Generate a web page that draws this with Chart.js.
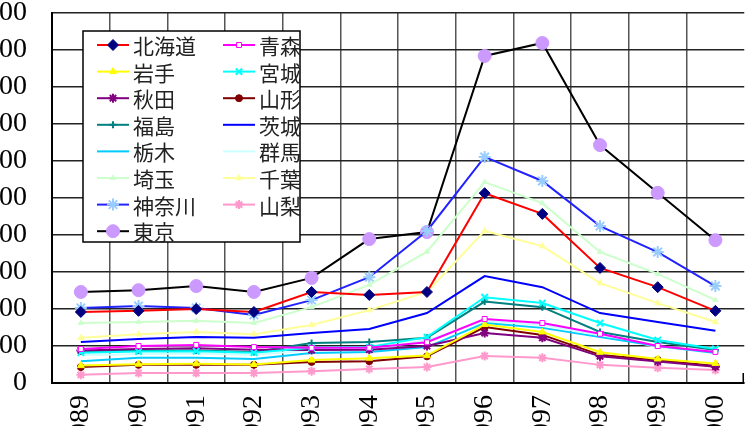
<!DOCTYPE html>
<html>
<head>
<meta charset="utf-8">
<script src="https://cdn.jsdelivr.net/npm/chart.js@4.4.1/dist/chart.umd.min.js"></script>
<style>
    html, body { margin: 0; padding: 0; background: #fff; overflow: hidden; width: 747px; height: 426px; }
    /* 目盛りラベルの左端・下端が切れるようにキャンバスをずらす */
    #wrap { position: absolute; left: -54px; top: -26px; width: 815px; height: 489px; }
</style>
</head>
<body>
<div id="wrap"><canvas id="chart"></canvas></div>
<script>
// 年（横軸）
const years = ['1989', '1990', '1991', '1992', '1993', '1994', '1995', '1996', '1997', '1998', '1999', '2000'];

// 縦軸の目盛り
const yMin = 0;
const yMax = 1000;
const yStep = 100;

// 都道府県名（凡例の順）
const prefNames = ['北海道', '青森', '岩手', '宮城', '秋田', '山形', '福島', '茨城', '栃木', '群馬', '埼玉', '千葉', '神奈川', '山梨', '東京'];

// 各都道府県の値
const hokkaido = [192, 195, 200, 192, 246, 238, 246, 513, 457, 311, 259, 195];
const aomori = [92, 100, 103, 97, 95, 95, 110, 173, 162, 133, 100, 84];
const iwate = [47, 51, 52, 50, 62, 67, 74, 158, 138, 83, 65, 53];
const miyagi = [82, 85, 86, 82, 95, 97, 124, 232, 216, 162, 116, 92];
const akita = [88, 92, 94, 90, 89, 90, 100, 135, 122, 72, 58, 44];
const yamagata = [43, 49, 49, 49, 57, 59, 72, 151, 130, 76, 62, 46];
const fukushima = [85, 88, 88, 84, 108, 111, 122, 220, 205, 138, 111, 89];
const ibaraki = [111, 119, 124, 122, 135, 146, 189, 289, 259, 189, 165, 141];
const tochigi = [59, 68, 68, 65, 81, 84, 97, 162, 149, 124, 100, 81];
const gunma = [76, 78, 80, 76, 89, 89, 116, 168, 157, 130, 97, 84];
const saitama = [162, 165, 168, 162, 205, 265, 355, 543, 486, 354, 295, 224];
const chiba = [122, 132, 138, 132, 157, 197, 246, 411, 370, 270, 216, 165];
const kanagawa = [203, 208, 203, 184, 224, 286, 411, 611, 546, 424, 354, 262];
const yamanashi = [22, 27, 27, 27, 32, 38, 43, 73, 68, 49, 41, 35];
const tokyo = [246, 251, 262, 246, 284, 389, 408, 884, 919, 643, 514, 386];

const prefValues = [hokkaido, aomori, iwate, miyagi, akita, yamagata, fukushima, ibaraki, tochigi, gunma, saitama, chiba, kanagawa, yamanashi, tokyo];

// 線の色・マーカー
const lineColors = ['#FF0000', '#FF00FF', '#FFFF00', '#00FFFF', '#800080', '#800000', '#008080', '#0000FF', '#00CCFF', '#CCFFFF', '#CCFFCC', '#FFFF99', '#2222FF', '#FF99CC', '#000000'];
const markerColors = ['#000080', '#FF00FF', '#FFFF00', '#00FFFF', '#800080', '#800000', '#008080', '#0000FF', '#00CCFF', '#CCFFFF', '#CCFFCC', '#FFFF99', '#99CCFF', '#FF99CC', '#CC99FF'];
const markerStyles = ['rectRot', 'rect', 'triangle', 'crossRot', 'star', 'circle', 'cross', 'circle', 'circle', 'circle', 'triangle', 'triangle', 'star', 'star', 'circle'];
const markerSizes = [5.5, 3.5, 4, 4.5, 4.5, 3.5, 3.5, 0, 0, 0, 3, 3.5, 6, 4.5, 6.5];

const datasets = prefNames.map((name, i) => ({
    label: name,
    data: prefValues[i],
    borderColor: lineColors[i],
    backgroundColor: markerColors[i],
    borderWidth: 2,
    tension: 0,
    pointStyle: markerStyles[i],
    pointRadius: markerSizes[i],
    pointBackgroundColor: i === 1 ? '#FFFFFF' : markerColors[i],
    pointBorderColor: markerColors[i],
    pointBorderWidth: markerStyles[i] === 'star' || markerStyles[i] === 'crossRot' || markerStyles[i] === 'cross' ? 2 : 1,
    fill: false
}));

// 凡例（プロット内の白い枠）と右端の目盛り
const boxLegend = {
    id: 'boxLegend',
    afterDraw(chart) {
        const ctx = chart.ctx;
        const area = chart.chartArea;

        // 右端の短い目盛り
        ctx.save();
        ctx.strokeStyle = '#000';
        ctx.lineWidth = 1.5;
        ctx.beginPath();
        ctx.moveTo(area.right - 1, area.bottom - 10);
        ctx.lineTo(area.right - 1, area.bottom);
        ctx.stroke();

        const x0 = area.left + 31;
        const y0 = area.top + 18;
        const w = 217;
        const h = 211;
        ctx.fillStyle = '#FFFFFF';
        ctx.fillRect(x0, y0, w, h);
        ctx.strokeStyle = '#000';
        ctx.lineWidth = 1.5;
        ctx.strokeRect(x0, y0, w, h);

        ctx.font = '21px "Noto Sans CJK JP"';
        ctx.textBaseline = 'middle';
        ctx.textAlign = 'left';

        chart.data.datasets.forEach((ds, i) => {
            const col = i % 2;
            const row = Math.floor(i / 2);
            const lx = x0 + 14 + col * 126;
            const ly = y0 + 14 + row * 26.6;

            ctx.strokeStyle = ds.borderColor;
            ctx.lineWidth = 2;
            ctx.beginPath();
            ctx.moveTo(lx, ly);
            ctx.lineTo(lx + 32, ly);
            ctx.stroke();

            if (ds.pointRadius > 0) {
                ctx.fillStyle = ds.pointBackgroundColor;
                ctx.strokeStyle = ds.pointBorderColor;
                ctx.lineWidth = ds.pointBorderWidth;
                Chart.helpers.drawPoint(ctx, {
                    pointStyle: ds.pointStyle,
                    radius: ds.pointRadius,
                    rotation: 0,
                    borderWidth: ds.pointBorderWidth
                }, lx + 16, ly);
            }

            ctx.fillStyle = '#222';
            ctx.fillText(ds.label, lx + 36, ly + 1);
        });
        ctx.restore();
    }
};

const chart = new Chart(document.getElementById('chart'), {
    type: 'line',
    data: { labels: years, datasets: datasets },
    options: {
        responsive: true,
        maintainAspectRatio: false,
        animation: false,
        events: [],
        layout: { padding: 0, autoPadding: false },
        plugins: {
            legend: { display: false },
            tooltip: { enabled: false }
        },
        scales: {
            x: {
                offset: true,
                grid: {
                    offset: true,
                    drawTicks: false,
                    lineWidth: 1.5,
                    color: c => c.tick ? '#555' : 'rgba(0,0,0,0)'
                },
                border: { display: true, color: '#000', width: 2 },
                ticks: {
                    minRotation: 90,
                    maxRotation: 90,
                    autoSkip: false,
                    padding: 12,
                    color: '#000',
                    font: { family: '"Liberation Serif"', size: 28 }
                }
            },
            y: {
                min: yMin,
                max: yMax,
                grid: { drawTicks: false, lineWidth: 1.5, color: '#222' },
                border: { display: true, color: '#000', width: 2 },
                ticks: {
                    stepSize: yStep,
                    padding: 25,
                    color: '#000',
                    font: { family: '"Liberation Serif"', size: 28, lineHeight: 1 },
                    callback: v => String(v)
                }
            }
        }
    },
    plugins: [boxLegend]
});
</script>
</body>
</html>
